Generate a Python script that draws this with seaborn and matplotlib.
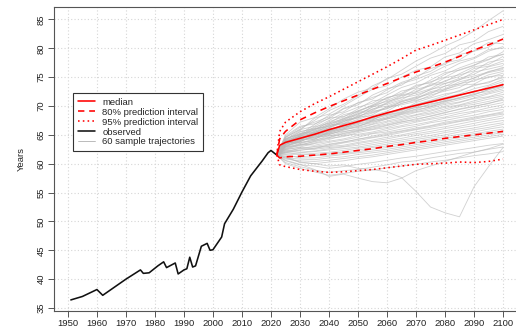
import numpy as np
import pandas as pd
import matplotlib
matplotlib.use("Agg")
import matplotlib.pyplot as plt
import seaborn as sns
from matplotlib.lines import Line2D

# ---------------- data ----------------
obs_years = [1951, 1955, 1960, 1962, 1966, 1970, 1975, 1976, 1978, 1981, 1983, 1984,
             1987, 1988, 1990, 1991, 1992, 1993, 1994, 1996, 1998, 1999, 2000, 2003,
             2004, 2007, 2010, 2013, 2015, 2017, 2019, 2020, 2021, 2022]
obs_values = [36.4, 37.0, 38.2, 37.2, 38.6, 40.0, 41.6, 41.0, 41.1, 42.3, 43.0, 42.0,
              42.8, 40.9, 41.6, 41.8, 43.8, 42.1, 42.3, 45.7, 46.2, 45.0, 45.1, 47.3,
              49.6, 52.1, 55.1, 57.9, 59.2, 60.5, 61.9, 62.3, 61.9, 61.5]

proj_years = [2022, 2023, 2025, 2030, 2035, 2040, 2045, 2050, 2055, 2060, 2065, 2070,
              2075, 2080, 2085, 2090, 2095, 2100]
median = [61.5, 63.2, 63.7, 64.4, 65.1, 65.9, 66.6, 67.3, 68.1, 68.8, 69.5, 70.1,
          70.7, 71.3, 71.9, 72.5, 73.1, 73.7]
pi80_high = [61.5, 64.3, 65.6, 67.6, 68.8, 69.9, 70.9, 71.9, 72.9, 73.9, 74.9, 75.9,
             76.7, 77.6, 78.6, 79.7, 80.6, 81.6]
pi80_low = [61.5, 61.0, 61.2, 61.3, 61.5, 61.7, 62.0, 62.3, 62.6, 63.0, 63.3, 63.7,
            64.0, 64.4, 64.7, 65.0, 65.3, 65.6]
pi95_high = [61.5, 65.6, 67.2, 69.0, 70.4, 71.6, 72.9, 74.2, 75.5, 76.8, 78.2, 79.7,
             80.5, 81.4, 82.3, 83.2, 84.1, 85.0]
pi95_low = [61.5, 59.8, 59.5, 59.0, 58.7, 58.5, 58.6, 58.8, 59.0, 59.3, 59.6, 59.9,
            60.0, 60.1, 60.3, 60.2, 60.4, 60.8]

traj_years = [2022, 2025, 2030, 2035, 2040, 2045, 2050, 2055, 2060, 2065, 2070, 2075,
              2080, 2085, 2090, 2095, 2100]
traj_start = 61.5
trajectories = [
    [64.5, 66.0, 67.5, 69.2, 70.3, 71.8, 73.5, 74.6, 76.2, 77.8, 79.0, 80.4, 81.5, 83.0, 84.8, 86.5],
    [65.0, 67.2, 68.0, 69.5, 71.2, 72.4, 73.1, 74.8, 75.5, 76.9, 78.3, 79.1, 80.6, 81.2, 82.9, 83.8],
    [64.2, 65.8, 67.9, 68.6, 70.0, 71.5, 72.9, 73.5, 75.0, 76.2, 76.8, 78.5, 79.2, 80.8, 81.5, 82.4],
    [63.9, 65.1, 66.8, 68.4, 69.0, 70.6, 71.2, 72.8, 74.1, 74.9, 76.5, 77.2, 78.9, 79.5, 80.2, 81.7],
    [64.8, 66.5, 66.9, 67.8, 69.5, 70.2, 71.9, 73.0, 73.6, 75.2, 76.0, 77.5, 78.0, 79.6, 81.0, 80.8],
    [64.0, 65.5, 66.2, 67.5, 68.8, 69.8, 70.5, 71.9, 73.2, 74.0, 75.3, 76.1, 77.4, 78.2, 79.5, 80.3],
    [63.5, 64.9, 66.4, 67.0, 68.5, 69.1, 70.2, 71.5, 72.0, 73.4, 74.2, 75.0, 76.3, 77.1, 78.0, 79.4],
    [64.3, 65.2, 65.8, 67.3, 68.1, 69.5, 70.9, 71.2, 72.6, 73.1, 74.5, 75.8, 76.2, 77.0, 78.5, 78.9],
    [63.8, 64.7, 65.9, 66.8, 67.9, 68.6, 69.8, 71.0, 71.9, 72.5, 73.8, 74.2, 75.6, 76.8, 77.2, 78.6],
    [64.6, 65.9, 66.5, 67.9, 68.2, 69.0, 70.1, 70.8, 71.5, 72.9, 73.5, 74.9, 75.4, 76.1, 77.6, 78.1],
    [63.4, 64.0, 65.6, 66.9, 67.5, 68.9, 69.4, 70.6, 71.8, 72.2, 73.0, 74.4, 75.1, 76.5, 76.9, 77.8],
    [64.1, 65.6, 66.0, 66.5, 67.8, 68.4, 69.9, 70.3, 71.1, 72.4, 73.6, 73.9, 74.8, 75.5, 76.8, 77.4],
    [63.6, 64.8, 65.3, 66.6, 67.2, 68.7, 69.2, 70.5, 71.4, 71.9, 72.8, 73.9, 74.5, 75.9, 76.4, 77.0],
    [63.9, 64.3, 65.7, 66.2, 67.6, 68.0, 69.5, 70.0, 70.9, 71.6, 72.9, 73.4, 74.6, 75.2, 75.9, 76.7],
    [64.4, 65.0, 66.1, 66.4, 67.0, 68.3, 68.9, 69.8, 70.7, 71.5, 72.1, 73.5, 73.8, 74.9, 75.8, 76.3],
    [63.2, 64.6, 65.0, 66.3, 67.4, 67.9, 68.8, 69.6, 70.4, 71.2, 72.3, 72.8, 73.9, 74.3, 75.4, 76.0],
    [63.7, 65.3, 65.5, 65.9, 66.8, 67.7, 68.5, 69.9, 70.2, 70.8, 71.9, 72.6, 73.2, 74.6, 74.9, 75.7],
    [64.0, 64.2, 65.4, 66.7, 66.9, 68.1, 68.3, 69.1, 70.5, 71.0, 71.6, 72.9, 73.6, 73.8, 75.1, 75.3],
    [63.3, 64.5, 64.8, 65.8, 66.5, 67.1, 68.0, 68.7, 69.6, 70.3, 71.0, 71.8, 72.7, 73.5, 74.2, 74.9],
    [63.8, 64.1, 65.2, 65.6, 66.9, 67.5, 67.9, 68.9, 69.3, 70.2, 70.9, 71.5, 72.1, 73.0, 73.6, 74.6],
    [63.5, 64.9, 65.1, 66.0, 66.3, 67.0, 68.2, 68.5, 69.0, 69.9, 70.6, 71.2, 71.9, 72.4, 73.4, 74.2],
    [64.2, 64.6, 64.9, 65.5, 66.7, 66.9, 67.6, 68.6, 69.4, 69.7, 70.2, 71.0, 71.8, 72.6, 72.9, 73.9],
    [63.0, 63.9, 64.6, 65.3, 66.0, 66.8, 67.4, 68.2, 68.8, 69.5, 70.4, 70.8, 71.5, 72.0, 72.8, 73.6],
    [63.6, 64.4, 65.3, 65.7, 66.2, 67.2, 67.8, 68.4, 68.9, 69.8, 70.0, 70.9, 71.3, 72.2, 72.5, 73.3],
    [63.9, 64.7, 64.5, 65.4, 66.4, 66.6, 67.1, 68.0, 68.6, 69.2, 69.9, 70.5, 71.1, 71.7, 72.3, 73.0],
    [62.9, 63.8, 64.9, 65.1, 65.8, 66.5, 67.3, 67.7, 68.5, 69.0, 69.6, 70.3, 70.7, 71.4, 72.1, 72.7],
    [63.4, 64.2, 64.4, 65.0, 65.9, 66.3, 66.9, 67.8, 68.2, 68.9, 69.3, 70.0, 70.6, 71.3, 71.6, 72.4],
    [63.1, 64.0, 64.7, 64.8, 65.5, 66.1, 66.8, 67.4, 68.0, 68.5, 69.1, 69.8, 70.2, 70.9, 71.5, 72.0],
    [63.7, 63.6, 64.3, 65.2, 65.6, 65.9, 66.5, 67.2, 67.7, 68.4, 68.8, 69.5, 70.1, 70.6, 71.2, 71.7],
    [62.8, 63.5, 64.1, 64.6, 65.3, 65.8, 66.4, 66.9, 67.5, 68.1, 68.6, 69.2, 69.9, 70.3, 70.8, 71.4],
    [63.2, 63.7, 64.0, 64.9, 65.0, 65.6, 66.2, 66.7, 67.3, 67.6, 68.3, 68.9, 69.4, 69.9, 70.5, 71.0],
    [62.6, 63.3, 63.8, 64.4, 64.7, 65.4, 65.9, 66.3, 67.0, 67.4, 67.9, 68.5, 69.0, 69.6, 70.1, 70.6],
    [63.0, 63.1, 63.6, 64.2, 64.9, 65.1, 65.5, 66.1, 66.6, 67.2, 67.7, 68.1, 68.7, 69.1, 69.7, 70.2],
    [62.4, 62.9, 63.5, 63.9, 64.3, 64.9, 65.3, 65.8, 66.4, 66.8, 67.3, 67.9, 68.3, 68.9, 69.3, 69.8],
    [62.7, 63.4, 63.2, 63.7, 64.1, 64.6, 65.2, 65.5, 66.0, 66.5, 67.1, 67.5, 68.0, 68.4, 69.0, 69.4],
    [62.2, 62.6, 63.0, 63.4, 63.8, 64.2, 64.8, 65.3, 65.7, 66.2, 66.6, 67.2, 67.6, 68.1, 68.5, 69.0],
    [62.5, 62.8, 62.9, 63.1, 63.6, 64.0, 64.5, 64.9, 65.4, 65.9, 66.3, 66.8, 67.3, 67.7, 68.2, 68.6],
    [62.1, 62.3, 62.7, 63.0, 63.2, 63.7, 64.1, 64.6, 65.0, 65.5, 66.0, 66.4, 66.9, 67.4, 67.8, 68.3],
    [61.9, 62.4, 62.5, 62.8, 63.0, 63.5, 63.9, 64.3, 64.8, 65.2, 65.6, 66.1, 66.5, 67.0, 67.5, 67.9],
    [62.3, 62.0, 62.2, 62.6, 62.9, 63.2, 63.6, 64.0, 64.4, 64.9, 65.3, 65.7, 66.2, 66.6, 67.1, 67.5],
    [61.8, 61.9, 62.1, 62.4, 62.6, 62.9, 63.3, 63.7, 64.1, 64.5, 64.9, 65.4, 65.8, 66.2, 66.7, 67.1],
    [62.0, 61.6, 61.8, 62.0, 62.3, 62.7, 63.0, 63.4, 63.8, 64.2, 64.6, 65.0, 65.5, 65.9, 66.3, 66.8],
    [61.5, 61.7, 61.5, 61.8, 62.0, 62.4, 62.8, 63.1, 63.5, 63.9, 64.3, 64.7, 65.1, 65.5, 66.0, 66.4],
    [61.3, 61.2, 61.4, 61.5, 61.8, 62.1, 62.5, 62.8, 63.2, 63.6, 64.0, 64.4, 64.8, 65.2, 65.6, 66.0],
    [61.6, 61.0, 61.0, 61.3, 61.6, 61.9, 62.2, 62.5, 62.9, 63.3, 63.7, 64.1, 64.5, 64.9, 65.3, 65.7],
    [61.0, 60.8, 60.7, 61.0, 61.2, 61.6, 61.9, 62.2, 62.6, 63.0, 63.4, 63.8, 64.2, 64.6, 65.0, 65.4],
    [60.8, 60.5, 60.4, 60.6, 60.9, 61.2, 61.5, 61.9, 62.3, 62.7, 63.1, 63.5, 63.9, 64.3, 64.7, 65.1],
    [61.2, 60.2, 60.0, 60.3, 60.5, 60.9, 61.2, 61.6, 62.0, 62.4, 62.8, 63.2, 63.6, 64.0, 64.4, 64.8],
    [60.5, 59.8, 59.6, 59.2, 59.5, 59.9, 60.2, 60.6, 61.0, 61.3, 61.7, 62.1, 62.4, 62.8, 63.2, 63.5],
    [60.2, 59.5, 58.9, 58.5, 58.8, 59.0, 59.4, 59.8, 60.3, 60.5, 61.0, 61.4, 61.8, 62.0, 62.5, 62.9],
    [60.0, 59.2, 58.6, 58.0, 58.3, 58.7, 58.9, 59.3, 59.6, 59.9, 60.3, 60.6, 61.0, 61.4, 61.7, 62.1],
    [61.0, 60.3, 60.0, 59.6, 59.8, 59.2, 59.0, 58.6, 57.6, 55.2, 52.5, 51.5, 50.8, 56.0, 59.5, 62.8],
    [60.6, 59.9, 59.0, 57.8, 58.2, 57.5, 56.9, 56.7, 57.5, 58.8, 59.6, 60.4, 61.2, 62.0, 62.6, 63.4],
    [64.6, 66.3, 67.2, 68.1, 69.6, 70.5, 71.5, 72.3, 73.9, 74.6, 75.6, 76.9, 77.8, 78.4, 79.8, 80.0],
    [63.3, 64.8, 66.0, 67.1, 67.7, 69.2, 70.0, 71.4, 72.2, 73.6, 74.0, 75.5, 76.6, 77.5, 78.1, 79.0],
    [63.5, 65.1, 65.4, 66.1, 67.3, 68.2, 69.1, 69.5, 70.8, 71.3, 72.5, 73.0, 74.2, 74.8, 76.0, 76.5],
    [62.9, 64.3, 64.2, 65.6, 66.0, 67.4, 67.6, 68.8, 69.2, 70.6, 71.4, 72.1, 72.5, 73.7, 74.0, 75.2],
    [63.6, 63.8, 65.0, 65.3, 66.1, 66.4, 67.5, 67.9, 68.7, 69.4, 69.8, 70.7, 71.4, 71.9, 72.9, 73.4],
    [62.5, 63.2, 63.9, 64.5, 65.2, 65.7, 66.0, 66.6, 67.2, 67.8, 68.2, 68.8, 69.5, 70.0, 70.4, 71.2],
    [62.0, 62.7, 62.6, 63.3, 63.7, 64.3, 64.6, 65.1, 65.6, 66.0, 66.5, 67.0, 67.4, 67.9, 68.4, 68.8],
]

# ---------------- build tables ----------------
rows = []
for i, tr in enumerate(trajectories):
    vals = [traj_start] + tr
    for y, v in zip(traj_years, vals):
        rows.append((i, y, v))
traj_df = pd.DataFrame(rows, columns=["sample", "year", "value"])
obs_df = pd.DataFrame({"year": obs_years, "value": obs_values})
proj_df = pd.DataFrame({"year": proj_years, "median": median,
                        "l80": pi80_low, "u80": pi80_high,
                        "l95": pi95_low, "u95": pi95_high})

# ---------------- style ----------------
sns.set_style("white")
plt.rcParams['font.family'] = ['Liberation Sans', 'DejaVu Sans']

fig = plt.figure(figsize=(5.16, 3.34), dpi=100)
ax = fig.add_axes([54 / 516, 23 / 334, 467 / 516, 304 / 334])

RED = "#ff0000"
RLW = 1.15
DASH = (0, (4, 3))
DOT = (0, (1, 2))
sns.lineplot(data=traj_df, x="year", y="value", units="sample", estimator=None,
             color="#b8b8b8", lw=0.6, alpha=0.65, ax=ax, legend=False, sort=False)
sns.lineplot(data=obs_df, x="year", y="value", color="#111111", lw=1.15, ax=ax,
             legend=False)
sns.lineplot(data=proj_df, x="year", y="median", color=RED, lw=RLW, ax=ax,
             legend=False)
for col in ["l80", "u80"]:
    sns.lineplot(data=proj_df, x="year", y=col, color=RED, lw=RLW, ax=ax,
                 legend=False, linestyle=DASH)
for col in ["l95", "u95"]:
    sns.lineplot(data=proj_df, x="year", y=col, color=RED, lw=RLW, ax=ax,
                 legend=False, linestyle=DOT)

ax.set_xlim(1945.2, 2106.2)
ax.set_ylim(34.48, 87.16)
ax.set_xticks(list(range(1950, 2101, 10)))
ax.set_yticks(list(range(35, 86, 5)))
ax.grid(True, color="#d6d6d6", linestyle=(0, (1, 2)), lw=0.8)
ax.set_axisbelow(True)

for s in ax.spines.values():
    s.set_color("#555555")
    s.set_linewidth(0.8)
    s.set_visible(True)

ax.tick_params(axis="both", direction="out", length=4, width=0.7,
               color="#555555", labelsize=6.8, labelcolor="#222222", pad=2,
               bottom=True, left=True)
for lab in ax.get_yticklabels():
    lab.set_rotation(90)
    lab.set_va("center")

ax.set_xlabel("")
ax.set_ylabel("Years", fontsize=6.8, color="#222222", labelpad=8)

handles = [
    Line2D([], [], color=RED, lw=RLW),
    Line2D([], [], color=RED, lw=RLW, linestyle=DASH),
    Line2D([], [], color=RED, lw=RLW, linestyle=DOT),
    Line2D([], [], color="#111111", lw=1.15),
    Line2D([], [], color="#b0b0b0", lw=0.6),
]
labels = ["median", "80% prediction interval", "95% prediction interval",
          "observed", "60 sample trajectories"]
leg = ax.legend(handles, labels, loc="upper left",
                bbox_to_anchor=((73 - 54) / 467, (311 - 93) / 304),
                borderaxespad=0, fontsize=6.8, frameon=True, fancybox=False,
                handlelength=1.8, handletextpad=0.8, labelspacing=0.1,
                borderpad=0.5)
leg.get_frame().set_edgecolor("#333333")
leg.get_frame().set_linewidth(0.8)
leg.get_frame().set_facecolor("white")
leg.get_frame().set_alpha(1)

fig.savefig("out.png", dpi=100)
